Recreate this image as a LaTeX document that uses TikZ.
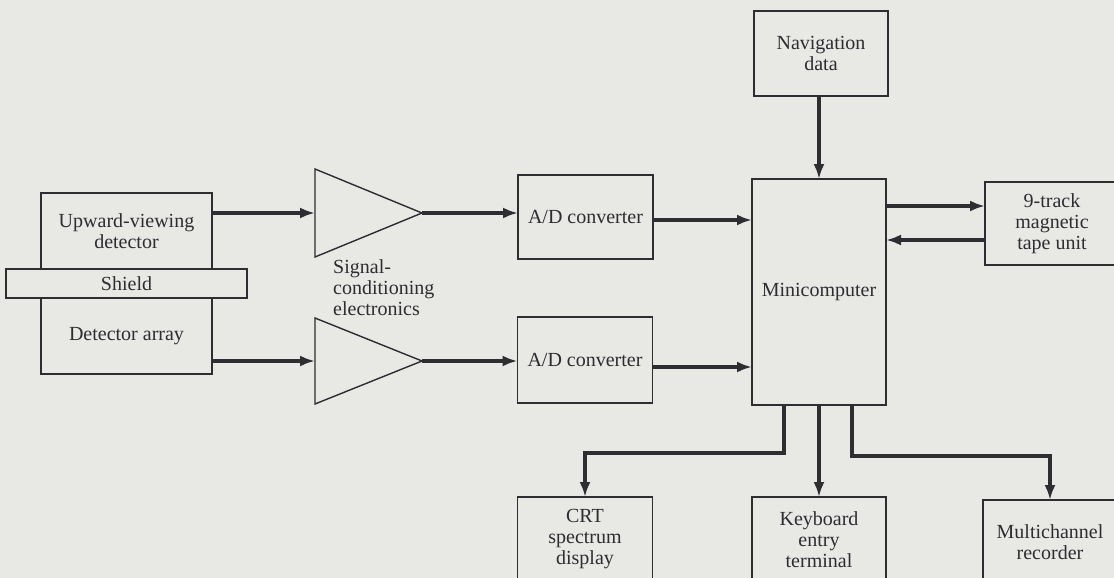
\documentclass[tikz,border=0pt]{standalone}
\usepackage{fontspec}
\setmainfont{Liberation Serif}
\usetikzlibrary{arrows.meta,calc}
\definecolor{bg}{RGB}{232,232,229}
\definecolor{ink}{RGB}{45,45,50}
\begin{document}
\begin{tikzpicture}[x=1pt,y=-1pt,
  box/.style={draw=ink, line width=1.4pt, text=ink, align=center, inner sep=0pt, outer sep=0pt,
              font=\fontsize{20}{21}\selectfont},
  tri/.style={draw=ink, line width=1.4pt, line join=miter},
  arr/.style={draw=ink, line width=3.6pt, -{Latex[length=15pt,width=11pt]}},
  lbl/.style={text=ink, align=left, inner sep=0pt, font=\fontsize{20}{21}\selectfont}]
\fill[bg] (0,0) rectangle (1114,578);
\useasboundingbox (0,0) rectangle (1114,578);
\clip (0,0) rectangle (1114,578);
% detectors
\node[box, minimum width=171pt, minimum height=76pt] (up) at (126.5,231) {Upward-viewing\\detector};
\node[box, minimum width=171pt, minimum height=76pt] (det) at (126.5,336) {Detector array};
\node[box, fill=bg, minimum width=241pt, minimum height=29pt] (shield) at (126.5,283.5) {Shield};
% amplifiers (signal-conditioning electronics)
\coordinate (tri1in) at (315,213);
\coordinate (tri1out) at (422,213);
\coordinate (tri2in) at (315,361);
\coordinate (tri2out) at (422,361);
\draw[tri] (315,169) -- (315,257) -- (tri1out) -- cycle;
\draw[tri] (315,318) -- (315,404) -- (tri2out) -- cycle;
\node[lbl, anchor=north west] (sig) at (333,259) {Signal-\\conditioning\\electronics};
% converters
\node[box, minimum width=135pt, minimum height=84pt] (ad1) at (585.5,217) {A/D converter};
\node[box, minimum width=135pt, minimum height=86pt] (ad2) at (585,360) {A/D converter};
% computer
\node[box, minimum width=134pt, minimum height=226pt] (mini) at (819,292) {Minicomputer};
\node[box, minimum width=134pt, minimum height=85pt] (nav) at (821,53.5) {Navigation\\data};
\node[box, minimum width=134pt, minimum height=83pt] (tape) at (1052,223.5) {9-track\\magnetic\\tape unit};
% outputs
\node[box, minimum width=135pt, minimum height=84pt] (crt) at (585,539) {CRT\\spectrum\\display};
\node[box, minimum width=134pt, minimum height=86pt] (kbd) at (819,540) {Keyboard\\entry\\terminal};
\node[box, minimum width=134pt, minimum height=84pt] (multi) at (1050,542) {Multichannel\\recorder};
% connectors
\draw[arr] (up.east |- tri1in) -- (tri1in);
\draw[arr] (det.east |- tri2in) -- (tri2in);
\draw[arr] (tri1out) -- (tri1out -| ad1.west);
\draw[arr] (tri2out) -- (tri2out -| ad2.west);
\coordinate (a1) at ([yshift=-3pt]ad1.east);
\coordinate (a2) at ([yshift=-7pt]ad2.east);
\draw[arr] (a1) -- (a1 -| mini.west);
\draw[arr] (a2) -- (a2 -| mini.west);
\draw[arr] (mini.north |- nav.south) -- (mini.north);
\coordinate (t1) at ([yshift=17.5pt]tape.west);
\coordinate (t2) at ([yshift=-16.5pt]tape.west);
\draw[arr] (t1 -| mini.east) -- (t1);
\draw[arr] (t2) -- (t2 -| mini.east);
\coordinate (m1) at ([xshift=-35pt]mini.south);
\coordinate (m3) at ([xshift=33pt]mini.south);
\draw[arr] (m1) -- ++(0,48) -| (crt.north);
\draw[arr] (mini.south) -- (kbd.north);
\draw[arr] (m3) -- ++(0,51) -| (multi.north);
\end{tikzpicture}
\end{document}
